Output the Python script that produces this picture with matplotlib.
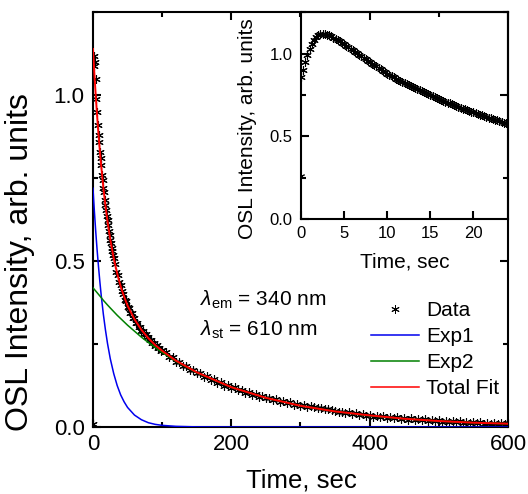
import numpy as np
import matplotlib
matplotlib.use("Agg")
import matplotlib.pyplot as plt
from matplotlib.ticker import MultipleLocator
from matplotlib.lines import Line2D

plt.rcParams['font.family'] = ['Liberation Sans', 'DejaVu Sans']
plt.rcParams['mathtext.fontset'] = 'custom'
plt.rcParams['mathtext.rm'] = 'Liberation Sans'
plt.rcParams['mathtext.it'] = 'Liberation Sans:italic'

# ---------------- data ----------------
# main OSL decay (sampled 1 s, then 2 s, then 5 s)
main_t = np.concatenate([np.arange(0, 31, 1), np.arange(32, 101, 2), np.arange(105, 601, 5)])
main_data = [
    0.01, 1.09, 1.12, 1.10, 1.05, 0.99, 0.95, 0.91, 0.88, 0.86, 0.83,
    0.81, 0.79, 0.76, 0.745, 0.72, 0.71, 0.685, 0.67, 0.655, 0.635,
    0.625, 0.61, 0.59, 0.58, 0.565, 0.555, 0.54, 0.532, 0.52, 0.51,
    # 32 .. 100
    0.492, 0.468, 0.457, 0.436, 0.427, 0.409, 0.402, 0.384, 0.379, 0.363,
    0.360, 0.345, 0.343, 0.330, 0.328, 0.315, 0.314, 0.302, 0.302, 0.290,
    0.291, 0.279, 0.280, 0.270, 0.271, 0.261, 0.262, 0.252, 0.254, 0.244,
    0.247, 0.237, 0.239, 0.230, 0.233,
    # 105 .. 600
    0.225, 0.211, 0.210, 0.197, 0.197, 0.185, 0.184, 0.173, 0.173, 0.162,
    0.163, 0.152, 0.153, 0.142, 0.144, 0.134, 0.135, 0.125, 0.127, 0.118,
    0.120, 0.111, 0.113, 0.104, 0.106, 0.097, 0.100, 0.092, 0.094, 0.086,
    0.088, 0.081, 0.083, 0.076, 0.078, 0.071, 0.074, 0.067, 0.069, 0.062,
    0.065, 0.059, 0.062, 0.059, 0.058, 0.056, 0.054, 0.053, 0.050, 0.049,
    0.044, 0.046, 0.041, 0.044, 0.038, 0.041, 0.036, 0.039, 0.034, 0.037,
    0.031, 0.034, 0.029, 0.032, 0.028, 0.031, 0.026, 0.029, 0.024, 0.027,
    0.022, 0.026, 0.021, 0.024, 0.020, 0.023, 0.018, 0.022, 0.017, 0.020,
    0.016, 0.019, 0.015, 0.018, 0.014, 0.017, 0.013, 0.016, 0.012, 0.015,
    0.011, 0.014, 0.010, 0.013, 0.010, 0.012, 0.009, 0.012, 0.008, 0.011,
]

# fit components
fit_t = [0, 2, 4, 6, 8, 10, 12, 15, 18, 21, 25, 30, 35, 40, 45, 50,
         60, 70, 80, 90, 100, 120, 150, 200, 250, 300, 350, 400, 450, 500, 550, 600]
exp1 = [0.720, 0.651, 0.589, 0.533, 0.483, 0.437, 0.395, 0.340, 0.293, 0.252, 0.206,
        0.161, 0.125, 0.097, 0.076, 0.059, 0.036, 0.022, 0.013, 0.008, 0.005, 0.002,
        0.0004, 0, 0, 0, 0, 0, 0, 0, 0, 0]
exp2 = [0.420, 0.415, 0.410, 0.405, 0.400, 0.395, 0.390, 0.382, 0.375, 0.368, 0.359,
        0.348, 0.337, 0.327, 0.317, 0.307, 0.289, 0.271, 0.255, 0.240, 0.225, 0.198,
        0.164, 0.120, 0.088, 0.064, 0.047, 0.034, 0.025, 0.018, 0.013, 0.010]
total_fit = [1.140, 1.066, 0.999, 0.938, 0.882, 0.831, 0.785, 0.722, 0.668, 0.620, 0.566,
             0.509, 0.463, 0.424, 0.393, 0.366, 0.325, 0.293, 0.268, 0.247, 0.230, 0.200,
             0.165, 0.120, 0.088, 0.064, 0.047, 0.035, 0.025, 0.018, 0.013, 0.010]

# inset: first 24 s, 0.25 s sampling
inset_t = np.arange(0, 24.01, 0.25)
inset_data = [
    0.86, 0.90, 0.95, 0.99, 1.03, 1.06, 1.085, 1.10, 1.112, 1.118, 1.12, 1.118,
    1.115, 1.112, 1.106, 1.098, 1.09, 1.083, 1.075, 1.068, 1.06, 1.05, 1.04, 1.03,
    1.02, 1.012, 1.003, 0.994, 0.985, 0.976, 0.968, 0.959, 0.95, 0.941, 0.933, 0.924,
    0.915, 0.906, 0.898, 0.889, 0.88, 0.872, 0.865, 0.857, 0.85, 0.844, 0.838, 0.831,
    0.825, 0.819, 0.812, 0.806, 0.80, 0.794, 0.787, 0.781, 0.775, 0.769, 0.762, 0.756,
    0.75, 0.744, 0.737, 0.731, 0.725, 0.72, 0.715, 0.71, 0.705, 0.70, 0.694, 0.689,
    0.683, 0.678, 0.673, 0.668, 0.663, 0.658, 0.654, 0.649, 0.645, 0.640, 0.636, 0.631,
    0.627, 0.623, 0.619, 0.614, 0.61, 0.606, 0.601, 0.597, 0.592, 0.588, 0.583, 0.579,
    0.574,
]
inset_first_t = [0.0]
inset_first = [0.26]

STAR = (6, 2, 0)   # asterisk marker

# ---------------- main plot ----------------
fig = plt.figure(figsize=(5.28, 4.94), dpi=100)
ax = fig.add_axes([0.1761, 0.1356, 0.786, 0.8391])

ax.plot(main_t, main_data, ls='none', marker=STAR, ms=6, mew=0.8, color='black', zorder=2)
ax.plot(fit_t, exp1, color='#0000ee', lw=1.1, zorder=3)
ax.plot(fit_t, exp2, color='#008000', lw=1.1, zorder=3)
ax.plot(fit_t, total_fit, color='#ff0000', lw=1.4, zorder=4)

ax.set_xlim(0, 600)
ax.set_ylim(0, 1.25)
ax.xaxis.set_major_locator(MultipleLocator(200))
ax.xaxis.set_minor_locator(MultipleLocator(100))
ax.yaxis.set_major_locator(MultipleLocator(0.5))
ax.yaxis.set_minor_locator(MultipleLocator(0.25))
ax.tick_params(which='both', direction='in', top=True, right=True, width=1.5)
ax.tick_params(which='major', length=5.8, labelsize=16)
ax.tick_params(which='minor', length=3.6)
ax.tick_params(axis='x', pad=5)
ax.tick_params(axis='y', pad=6)
for s in ax.spines.values():
    s.set_linewidth(1.5)

ax.set_xlabel('Time, sec', fontsize=18.5)
ax.set_ylabel('OSL Intensity, arb. units', fontsize=23)
ax.xaxis.set_label_coords(0.503, -0.1)
ax.yaxis.set_label_coords(-0.14, 0.398)

ax.text(155, 0.383, r'$\lambda_{\mathrm{em}}$ = 340 nm', fontsize=15, va='center', ha='left')
ax.text(155, 0.292, r'$\lambda_{\mathrm{st}}$ = 610 nm', fontsize=15, va='center', ha='left')

handles = [
    Line2D([], [], ls='none', marker=STAR, ms=6, mew=0.7, color='black'),
    Line2D([], [], color='#0000ee', lw=1.1),
    Line2D([], [], color='#008000', lw=1.1),
    Line2D([], [], color='#ff0000', lw=1.1),
]
ax.legend(handles, ['Data', 'Exp1', 'Exp2', 'Total Fit'], loc='upper left',
          bbox_to_anchor=(0.67, 0.303), frameon=False, fontsize=15, borderpad=0,
          borderaxespad=0, handlelength=2.3, handletextpad=0.35, labelspacing=0.33,
          numpoints=1)

# ---------------- inset ----------------
ins = fig.add_axes([0.5701, 0.5567, 0.392, 0.418])
ins.set_facecolor('none')
ins.plot(inset_first_t, inset_first, ls='none', marker=STAR, ms=5, mew=0.7, color='black')
ins.plot(inset_t, inset_data, ls='none', marker=STAR, ms=6, mew=0.8, color='black')
ins.set_xlim(0, 24)
ins.set_ylim(0, 1.25)
ins.xaxis.set_major_locator(MultipleLocator(5))
ins.yaxis.set_major_locator(MultipleLocator(0.5))
ins.yaxis.set_minor_locator(MultipleLocator(0.25))
ins.tick_params(which='both', direction='in', top=False, right=False, width=1.5)
ins.tick_params(which='major', length=5.8, labelsize=12)
ins.tick_params(which='minor', length=3.6)
ins.tick_params(axis='x', pad=5)
ins.tick_params(axis='y', pad=6)
for s in ins.spines.values():
    s.set_linewidth(1.5)
ins.set_xlabel('Time, sec', fontsize=15)
ins.set_ylabel('OSL Intensity, arb. units', fontsize=15)
ins.xaxis.set_label_coords(0.502, -0.16)
ins.yaxis.set_label_coords(-0.215, 0.436)

fig.savefig('out.png', dpi=100)
